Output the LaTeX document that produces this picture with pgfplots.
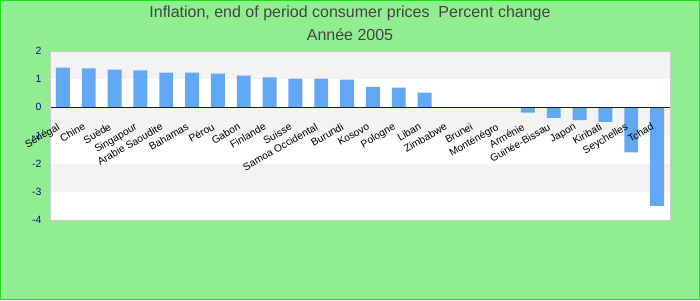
\documentclass[border=0pt]{standalone}
\usepackage{pgfplots}
\pgfplotsset{compat=1.18}
\usepackage{fontspec}
\setmainfont{Liberation Sans}
\definecolor{bggreen}{RGB}{144,238,144}
\definecolor{edgegreen}{RGB}{20,230,20}
\definecolor{barblue}{RGB}{98,168,244}
\definecolor{bandgray}{RGB}{243,243,243}
\definecolor{framegray}{RGB}{204,204,204}
\definecolor{tickblue}{RGB}{16,16,140}
\definecolor{titlegray}{RGB}{68,68,68}
\begin{document}
\begin{tikzpicture}
\draw[edgegreen, fill=bggreen, line width=1pt, use as bounding box] (0.5pt,0.5pt) rectangle (699.5pt,299.5pt);
\node[titlegray, font=\fontsize{16}{19}\selectfont] at (350pt,287pt) {Inflation, end of period consumer prices~ Percent change};
\node[titlegray, font=\fontsize{16}{19}\selectfont] at (350pt,265pt) {Année 2005};
\begin{axis}[
  at={(50pt,80pt)}, anchor=south west,
  scale only axis, width=620pt, height=169pt,
  xmin=-0.5, xmax=23.5, ymin=-4, ymax=2,
  axis on top,
  axis background/.style={fill=white},
  axis line style={framegray, line width=1pt},
  major tick length=0pt,
  ytick={-4,-3,-2,-1,0,1,2},
  yticklabel style={tickblue, font=\fontsize{10.5}{12}\selectfont, xshift=-5pt},
  /pgf/number format/assume math mode=true,
  xtick={0,...,23},
  xticklabels={Sénégal,Chine,Suède,Singapour,Arabie Saoudite,Bahamas,Pérou,Gabon,Finlande,Suisse,Samoa Occidental,Burundi,Kosovo,Pologne,Liban,Zimbabwe,Brunei,Monténégro,Arménie,Guinée-Bissau,Japon,Kiribati,Seychelles,Tchad},
  xticklabel style={xshift=-6pt, yshift=99pt, rotate=30, anchor=north east, inner sep=1pt, font=\fontsize{10.3}{12}\selectfont, black},
  clip=false,
]
\fill[bandgray] (axis cs:-0.5,1) rectangle (axis cs:23.5,2);
\fill[bandgray] (axis cs:-0.5,-1) rectangle (axis cs:23.5,0);
\fill[bandgray] (axis cs:-0.5,-3) rectangle (axis cs:23.5,-2);
\addplot[ybar, bar width=0.54, fill=barblue, draw=none] coordinates {
(0,1.41) (1,1.38) (2,1.34) (3,1.31) (4,1.23) (5,1.23) (6,1.20) (7,1.13)
(8,1.06) (9,1.02) (10,1.02) (11,0.98) (12,0.73) (13,0.70) (14,0.52) (15,0)
(16,0) (17,0) (18,-0.19) (19,-0.37) (20,-0.45) (21,-0.52) (22,-1.60) (23,-3.50)
};
\addplot[tickblue, line width=1pt] coordinates {(-0.5,0) (23.5,0)};
\end{axis}
\end{tikzpicture}
\end{document}
